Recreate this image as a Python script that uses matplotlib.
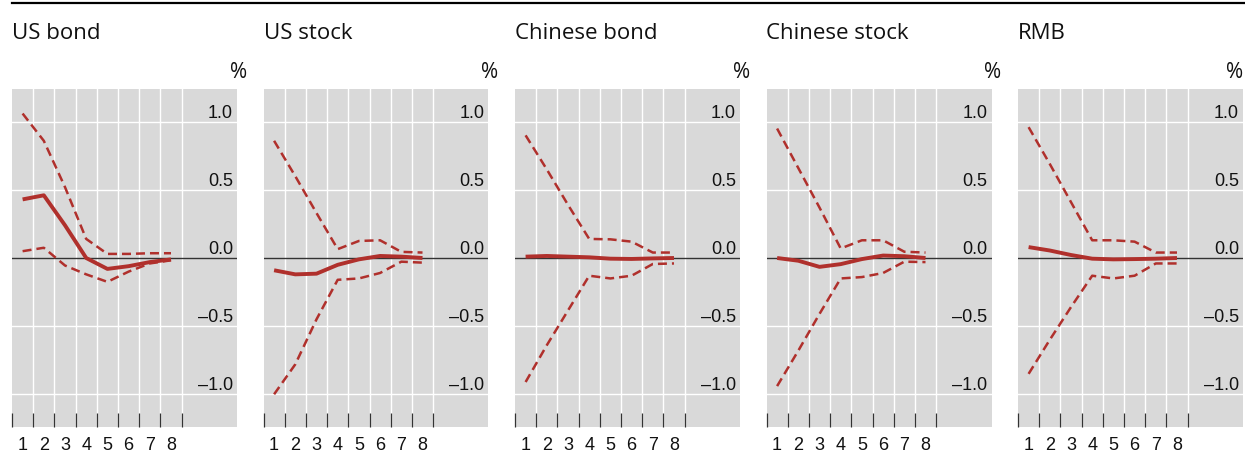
import matplotlib
matplotlib.use("Agg")
import matplotlib.pyplot as plt
from matplotlib.lines import Line2D
from matplotlib.transforms import blended_transform_factory

# Impulse responses (%) over eight periods, with upper/lower confidence bands
titles = ["US bond", "US stock", "Chinese bond", "Chinese stock", "RMB"]
horizons = [1, 2, 3, 4, 5, 6, 7, 8]

response = [
    [0.43, 0.46, 0.24, 0.00, -0.08, -0.06, -0.03, -0.01],
    [-0.09, -0.12, -0.115, -0.05, -0.01, 0.015, 0.01, 0.00],
    [0.01, 0.015, 0.01, 0.005, -0.005, -0.007, -0.003, 0.00],
    [0.00, -0.02, -0.065, -0.045, -0.008, 0.018, 0.013, 0.00],
    [0.08, 0.055, 0.022, -0.005, -0.01, -0.008, -0.005, 0.00],
]
upper = [
    [1.06, 0.86, 0.52, 0.14, 0.03, 0.03, 0.035, 0.035],
    [0.86, 0.60, 0.33, 0.065, 0.125, 0.13, 0.045, 0.04],
    [0.90, 0.65, 0.39, 0.14, 0.137, 0.12, 0.04, 0.04],
    [0.95, 0.66, 0.37, 0.07, 0.13, 0.13, 0.046, 0.04],
    [0.96, 0.69, 0.41, 0.13, 0.13, 0.12, 0.04, 0.04],
]
lower = [
    [0.05, 0.075, -0.055, -0.12, -0.175, -0.10, -0.04, -0.017],
    [-1.00, -0.78, -0.45, -0.16, -0.15, -0.11, -0.027, -0.034],
    [-0.91, -0.64, -0.385, -0.13, -0.15, -0.13, -0.044, -0.04],
    [-0.94, -0.68, -0.41, -0.15, -0.14, -0.11, -0.027, -0.03],
    [-0.85, -0.60, -0.36, -0.13, -0.15, -0.13, -0.04, -0.04],
]

ytick_vals = [1.0, 0.5, 0.0, -0.5, -1.0]
ytick_labels = ["1.0", "0.5", "0.0", "\u20130.5", "\u20131.0"]

W, H = 1245, 454
RED = "#b0302c"
BG = "#d9d9d9"
INK = "#111111"
TITLE_FONT = ["Open Sans", "DejaVu Sans"]
TICK_FONT = ["Liberation Sans", "DejaVu Sans"]

fig = plt.figure(figsize=(W / 100, H / 100), dpi=100)

# rule across the top
fig.add_artist(Line2D([12 / W, 1.0], [(H - 3) / H, (H - 3) / H],
                      transform=fig.transFigure, color="black", lw=1.6))

panel_left = [12, 263.5, 515, 766.5, 1018]
panel_w = 225
ax_top, ax_bottom = 89, 427
ax_h = ax_bottom - ax_top

for k, name in enumerate(titles):
    left = panel_left[k]
    ax = fig.add_axes([left / W, (H - ax_bottom) / H, panel_w / W, ax_h / H])
    ax.set_facecolor(BG)
    for s in ax.spines.values():
        s.set_visible(False)
    ax.set_xlim(0.5, 0.5 + panel_w / 21.2)
    ax.set_ylim(-1.24, 1.24)

    # grid
    for gx in [1.5, 2.5, 3.5, 4.5, 5.5, 6.5, 7.5, 8.5]:
        ax.axvline(gx, color="white", lw=1.0, zorder=1)
    for gy in [1.0, 0.5, -0.5, -1.0]:
        ax.axhline(gy, color="white", lw=1.0, zorder=1)
    ax.axhline(0.0, color="#333333", lw=1.0, zorder=2)

    # bottom ticks between periods
    ax.set_xticks([0.5, 1.5, 2.5, 3.5, 4.5, 5.5, 6.5, 7.5, 8.5])
    ax.set_xticklabels([])
    ax.tick_params(axis="x", direction="in", length=10, width=0.9,
                   color="#333333", zorder=3)
    ax.set_yticks([])

    # data
    ax.plot(horizons, upper[k], color=RED, lw=1.8, ls=(0, (3.6, 2.0)), zorder=4)
    ax.plot(horizons, lower[k], color=RED, lw=1.8, ls=(0, (3.6, 2.0)), zorder=4)
    ax.plot(horizons, response[k], color=RED, lw=2.8, zorder=5,
            solid_capstyle="butt", solid_joinstyle="round")

    # period labels
    tr = blended_transform_factory(ax.transData, ax.transAxes)
    for h in horizons:
        ax.text(h, -(445 - ax_bottom) / ax_h, str(h),
                transform=tr, ha="center", va="center", fontsize=13,
                family=TICK_FONT, color=INK, clip_on=False)

    # value labels sitting on the gridlines
    for v, lab in zip(ytick_vals, ytick_labels):
        ax.annotate(lab, xy=((233 - 12) / panel_w, v),
                    xycoords=("axes fraction", "data"),
                    xytext=(0, 3.0), textcoords="offset points",
                    ha="right", va="baseline", fontsize=13,
                    family=TICK_FONT, color=INK, zorder=6)

    # unit label, kept inside the figure for the last panel
    pct_right = min(left + 235, W - 2)
    ax.text((pct_right - left) / panel_w, (ax_bottom - 72) / ax_h, "%",
            transform=ax.transAxes, ha="right", va="center", fontsize=15,
            family=TITLE_FONT, color=INK, clip_on=False)

    fig.text(left / W, (H - 39) / H, name, ha="left", va="baseline",
             fontsize=16, family=TITLE_FONT, color=INK)

fig.savefig("out.png", dpi=100)
